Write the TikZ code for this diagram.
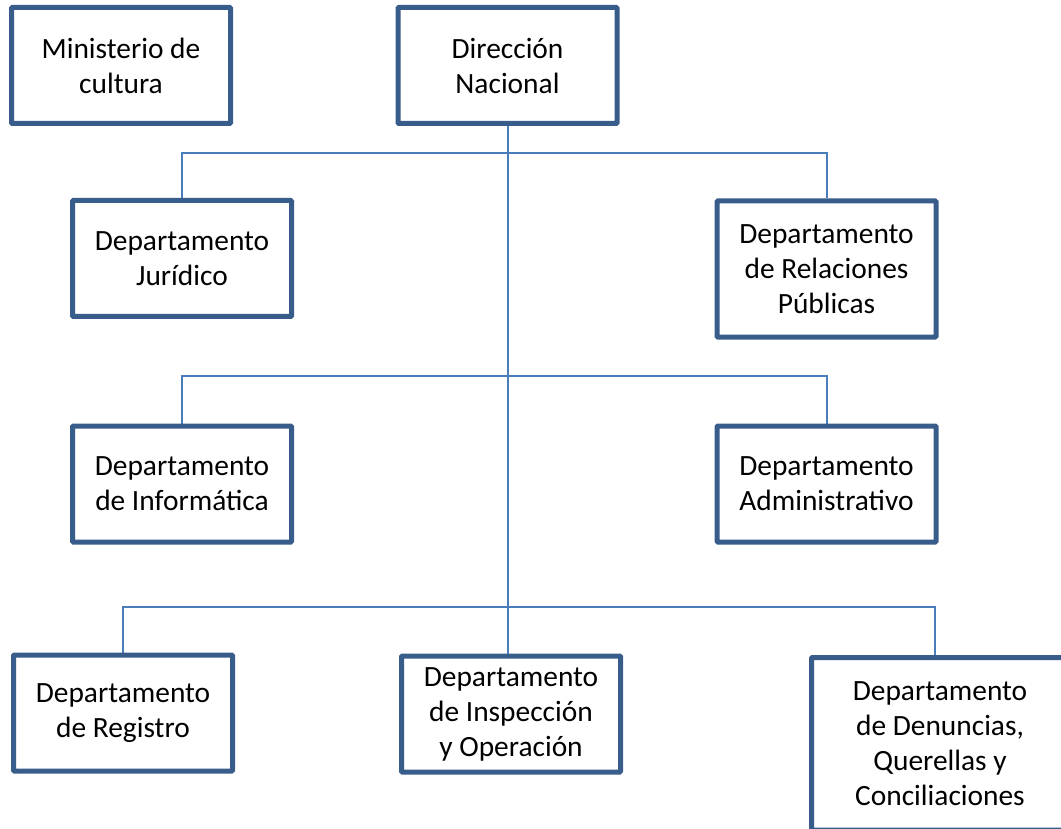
\documentclass[tikz,border=0pt]{standalone}
\usepackage{fontspec}
\setmainfont{Carlito}
\usetikzlibrary{positioning,backgrounds}
\definecolor{borde}{HTML}{385D8A}
\definecolor{linea}{HTML}{4A7EBB}
\tikzset{cargo/.style={draw=borde, line width=5pt, fill=white, rectangle, rounded corners=1pt,
  minimum width=219pt, minimum height=116pt, align=center, inner sep=2pt,
  font=\fontsize{29.4}{35}\selectfont}}
\tikzstyle{enlace}=[draw=linea, line width=2pt]
\begin{document}
\begin{tikzpicture}[x=1pt, y=-1pt]
\clip (0,0) rectangle (1061,829);
\node[cargo] (mincult) at (121,65.5) {Ministerio de\\cultura};
\node[cargo] (dirnac) at (507.5,65.5) {Dirección\\Nacional};
\node[cargo] (juridico) at (182,258.5) {Departamento\\Jurídico};
\node[cargo, minimum height=136pt] (relpub) at (826.5,269) {Departamento\\de Relaciones\\Públicas};
\node[cargo] (informatica) at (182,484) {Departamento\\de Informática};
\node[cargo] (admin) at (826.5,484) {Departamento\\Administrativo};
\node[cargo] (registro) at (123,713) {Departamento\\de Registro};
\node[cargo] (inspeccion) at (511,714) {Departamento\\de Inspección\\y Operación};
\node[cargo, minimum width=257pt, minimum height=172.5pt] (denuncias) at (940,743.75) {Departamento\\de Denuncias,\\Querellas y\\Conciliaciones};
\coordinate (bus1) at (509,153.5);
\coordinate (bus2) at (509,376);
\coordinate (bus3) at (509,606.5);
\begin{pgfonlayer}{background}
\path[enlace] (dirnac.south) -- (dirnac.south |- inspeccion.north);
\path[enlace] (juridico.north) |- (bus1) -| (relpub.north);
\path[enlace] (informatica.north) |- (bus2) -| (admin.north);
\path[enlace] (registro.north) |- (bus3) -| ([xshift=-5pt]denuncias.north);
\end{pgfonlayer}
\end{tikzpicture}
\end{document}
